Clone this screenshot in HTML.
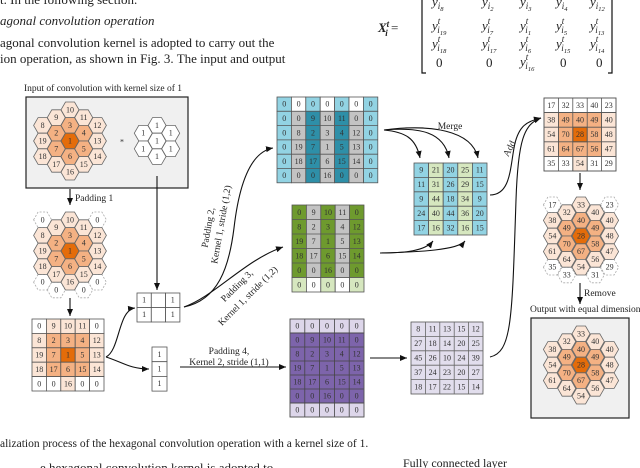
<!DOCTYPE html>
<html><head><meta charset="utf-8"><style>
html,body{margin:0;padding:0;background:#fff;width:640px;height:468px;overflow:hidden}
svg{display:block}
text{font-family:"Liberation Serif",serif;fill:#222}
.n text{font-size:8px;text-anchor:middle;dominant-baseline:central;fill:#333}
.n rect{stroke:#555;stroke-width:.8}
.h use{stroke:#666;stroke-width:.8}
.d use{stroke:#aaa;stroke-dasharray:2 1.5;stroke-width:.8}
.l{font-size:9.5px}
.p{font-size:13px}
path.a{fill:none;stroke:#111;stroke-width:1.1}
.eq text{font-size:13px}
</style></head><body>
<svg width="640" height="468" viewBox="0 0 640 468" xmlns="http://www.w3.org/2000/svg">
<defs>
<polygon id="hx" points="-9,0 -4.5,-7.8 4.5,-7.8 9,0 4.5,7.8 -4.5,7.8"/>
<marker id="ar" markerWidth="8" markerHeight="8" refX="7" refY="4" orient="auto" markerUnits="userSpaceOnUse"><path d="M0,1 L7,4 L0,7 Z" fill="#111"/></marker>
</defs>

<!-- paper text -->
<text class="p" x="0" y="4">t. In the following section.</text>
<text class="p" x="0" y="25" font-style="italic">agonal convolution operation</text>
<text class="p" x="0" y="47">agonal convolution kernel is adopted to carry out the</text>
<text class="p" x="0" y="63">ion operation, as shown in Fig. 3. The input and output</text>
<text x="0" y="447" font-size="11.5">alization process of the hexagonal convolution operation with a kernel size of 1.</text>
<text x="40" y="472" font-size="13">e hexagonal convolution kernel is adopted to</text>
<text x="403" y="467" font-size="12">Fully connected layer</text>

<!-- matrix equation -->
<g class="eq">
<text x="378" y="32" font-style="italic" font-weight="bold">X<tspan font-size="9" dy="-5">t</tspan><tspan font-size="9" dx="-4" dy="9">i</tspan><tspan dy="-4" font-style="normal" font-weight="normal"> =</tspan></text>
<path d="M426,-4 H422 V73 H426 M608,-4 H612 V73 H608" fill="none" stroke="#111" stroke-width="1.2"/>
<g font-style="italic">
<text x="432" y="6">y<tspan font-size="9" dy="3">i</tspan><tspan font-size="6.5" dy="2">8</tspan></text>
<text x="482" y="6">y<tspan font-size="9" dy="3">i</tspan><tspan font-size="6.5" dy="2">2</tspan></text>
<text x="520" y="6">y<tspan font-size="9" dy="3">i</tspan><tspan font-size="6.5" dy="2">3</tspan></text>
<text x="556" y="6">y<tspan font-size="9" dy="3">i</tspan><tspan font-size="6.5" dy="2">4</tspan></text>
<text x="590" y="6">y<tspan font-size="9" dy="3">i</tspan><tspan font-size="6.5" dy="2">12</tspan></text>

<text x="432" y="30">y<tspan font-size="9" dy="-6">t</tspan><tspan font-size="9" dx="-3" dy="9">i</tspan><tspan font-size="6.5" dy="2">19</tspan></text>
<text x="482" y="30">y<tspan font-size="9" dy="-6">t</tspan><tspan font-size="9" dx="-3" dy="9">i</tspan><tspan font-size="6.5" dy="2">7</tspan></text>
<text x="520" y="30">y<tspan font-size="9" dy="-6">t</tspan><tspan font-size="9" dx="-3" dy="9">i</tspan><tspan font-size="6.5" dy="2">1</tspan></text>
<text x="556" y="30">y<tspan font-size="9" dy="-6">t</tspan><tspan font-size="9" dx="-3" dy="9">i</tspan><tspan font-size="6.5" dy="2">5</tspan></text>
<text x="590" y="30">y<tspan font-size="9" dy="-6">t</tspan><tspan font-size="9" dx="-3" dy="9">i</tspan><tspan font-size="6.5" dy="2">13</tspan></text>

<text x="432" y="48">y<tspan font-size="9" dy="-6">t</tspan><tspan font-size="9" dx="-3" dy="9">i</tspan><tspan font-size="6.5" dy="2">18</tspan></text>
<text x="482" y="48">y<tspan font-size="9" dy="-6">t</tspan><tspan font-size="9" dx="-3" dy="9">i</tspan><tspan font-size="6.5" dy="2">17</tspan></text>
<text x="520" y="48">y<tspan font-size="9" dy="-6">t</tspan><tspan font-size="9" dx="-3" dy="9">i</tspan><tspan font-size="6.5" dy="2">6</tspan></text>
<text x="556" y="48">y<tspan font-size="9" dy="-6">t</tspan><tspan font-size="9" dx="-3" dy="9">i</tspan><tspan font-size="6.5" dy="2">15</tspan></text>
<text x="590" y="48">y<tspan font-size="9" dy="-6">t</tspan><tspan font-size="9" dx="-3" dy="9">i</tspan><tspan font-size="6.5" dy="2">14</tspan></text>

<text x="520" y="66">y<tspan font-size="9" dy="-6">t</tspan><tspan font-size="9" dx="-3" dy="9">i</tspan><tspan font-size="6.5" dy="2">16</tspan></text>
</g>
<text x="436" y="67">0</text><text x="486" y="67">0</text><text x="560" y="67">0</text><text x="596" y="67">0</text>
</g>

<!-- input box -->
<text class="l" x="24" y="91">Input of convolution with kernel size of 1</text>
<rect x="26" y="97" width="162" height="91" fill="#f0f0f0" stroke="#222" stroke-width="1.2"/>
<g class="h">
<use href="#hx" x="42.6" y="125.4" fill="#fbe5d6"/><use href="#hx" x="42.6" y="141" fill="#fbe5d6"/><use href="#hx" x="42.6" y="156.6" fill="#fbe5d6"/>
<use href="#hx" x="56.3" y="117.6" fill="#fbe5d6"/><use href="#hx" x="56.3" y="133.2" fill="#f4b183"/><use href="#hx" x="56.3" y="148.8" fill="#f4b183"/><use href="#hx" x="56.3" y="164.4" fill="#fbe5d6"/>
<use href="#hx" x="70" y="109.8" fill="#fbe5d6"/><use href="#hx" x="70" y="125.4" fill="#f4b183"/><use href="#hx" x="70" y="141" fill="#e46c0a"/><use href="#hx" x="70" y="156.6" fill="#f4b183"/><use href="#hx" x="70" y="172.2" fill="#fbe5d6"/>
<use href="#hx" x="83.7" y="117.6" fill="#fbe5d6"/><use href="#hx" x="83.7" y="133.2" fill="#f4b183"/><use href="#hx" x="83.7" y="148.8" fill="#f4b183"/><use href="#hx" x="83.7" y="164.4" fill="#fbe5d6"/>
<use href="#hx" x="97.4" y="125.4" fill="#fbe5d6"/><use href="#hx" x="97.4" y="141" fill="#fbe5d6"/><use href="#hx" x="97.4" y="156.6" fill="#fbe5d6"/>
<use href="#hx" x="143.3" y="133.2" fill="#fff"/><use href="#hx" x="143.3" y="148.8" fill="#fff"/>
<use href="#hx" x="157" y="125.4" fill="#fff"/><use href="#hx" x="157" y="141" fill="#fff"/><use href="#hx" x="157" y="156.6" fill="#fff"/>
<use href="#hx" x="170.7" y="133.2" fill="#fff"/><use href="#hx" x="170.7" y="148.8" fill="#fff"/>
</g>
<g class="n">
<text x="42.6" y="125.4">8</text><text x="42.6" y="141">19</text><text x="42.6" y="156.6">18</text>
<text x="56.3" y="117.6">9</text><text x="56.3" y="133.2">2</text><text x="56.3" y="148.8">7</text><text x="56.3" y="164.4">17</text>
<text x="70" y="109.8">10</text><text x="70" y="125.4">3</text><text x="70" y="141">1</text><text x="70" y="156.6">6</text><text x="70" y="172.2">16</text>
<text x="83.7" y="117.6">11</text><text x="83.7" y="133.2">4</text><text x="83.7" y="148.8">5</text><text x="83.7" y="164.4">15</text>
<text x="97.4" y="125.4">12</text><text x="97.4" y="141">13</text><text x="97.4" y="156.6">14</text>
<text x="143.3" y="133.2">1</text><text x="143.3" y="148.8">1</text>
<text x="157" y="125.4">1</text><text x="157" y="141">1</text><text x="157" y="156.6">1</text>
<text x="170.7" y="133.2">1</text><text x="170.7" y="148.8">1</text>
<text x="122" y="142" font-size="11">*</text>
</g>

<!-- padded hex -->
<g class="d">
<use href="#hx" x="42.6" y="219.8" fill="#fff"/><use href="#hx" x="97.4" y="219.8" fill="#fff"/>
<use href="#hx" x="42.6" y="282.2" fill="#fff"/><use href="#hx" x="97.4" y="282.2" fill="#fff"/>
<use href="#hx" x="56.3" y="290" fill="#fff"/><use href="#hx" x="83.7" y="290" fill="#fff"/>
</g>
<g class="h">
<use href="#hx" x="42.6" y="235.4" fill="#fbe5d6"/><use href="#hx" x="42.6" y="251" fill="#fbe5d6"/><use href="#hx" x="42.6" y="266.6" fill="#fbe5d6"/>
<use href="#hx" x="56.3" y="227.6" fill="#fbe5d6"/><use href="#hx" x="56.3" y="243.2" fill="#f4b183"/><use href="#hx" x="56.3" y="258.8" fill="#f4b183"/><use href="#hx" x="56.3" y="274.4" fill="#fbe5d6"/>
<use href="#hx" x="70" y="219.8" fill="#fbe5d6"/><use href="#hx" x="70" y="235.4" fill="#f4b183"/><use href="#hx" x="70" y="251" fill="#e46c0a"/><use href="#hx" x="70" y="266.6" fill="#f4b183"/><use href="#hx" x="70" y="282.2" fill="#fbe5d6"/>
<use href="#hx" x="83.7" y="227.6" fill="#fbe5d6"/><use href="#hx" x="83.7" y="243.2" fill="#f4b183"/><use href="#hx" x="83.7" y="258.8" fill="#f4b183"/><use href="#hx" x="83.7" y="274.4" fill="#fbe5d6"/>
<use href="#hx" x="97.4" y="235.4" fill="#fbe5d6"/><use href="#hx" x="97.4" y="251" fill="#fbe5d6"/><use href="#hx" x="97.4" y="266.6" fill="#fbe5d6"/>
</g>
<g class="n">
<text x="42.6" y="219.8">0</text><text x="97.4" y="219.8">0</text><text x="42.6" y="282.2">0</text><text x="97.4" y="282.2">0</text><text x="56.3" y="290">0</text><text x="83.7" y="290">0</text>
<text x="42.6" y="235.4">8</text><text x="42.6" y="251">19</text><text x="42.6" y="266.6">18</text>
<text x="56.3" y="227.6">9</text><text x="56.3" y="243.2">2</text><text x="56.3" y="258.8">7</text><text x="56.3" y="274.4">17</text>
<text x="70" y="219.8">10</text><text x="70" y="235.4">3</text><text x="70" y="251">1</text><text x="70" y="266.6">6</text><text x="70" y="282.2">16</text>
<text x="83.7" y="227.6">11</text><text x="83.7" y="243.2">4</text><text x="83.7" y="258.8">5</text><text x="83.7" y="274.4">15</text>
<text x="97.4" y="235.4">12</text><text x="97.4" y="251">13</text><text x="97.4" y="266.6">14</text>
</g>
<text class="l" x="75" y="201">Padding 1</text>

<!-- orange matrix -->
<g class="n">
<rect x="32" y="319" width="14.4" height="14.4" fill="#fff"/><rect x="46.4" y="319" width="14.4" height="14.4" fill="#fbe5d6"/><rect x="60.8" y="319" width="14.4" height="14.4" fill="#fbe5d6"/><rect x="75.2" y="319" width="14.4" height="14.4" fill="#fbe5d6"/><rect x="89.6" y="319" width="14.4" height="14.4" fill="#fff"/>
<rect x="32" y="333.4" width="14.4" height="14.4" fill="#fbe5d6"/><rect x="46.4" y="333.4" width="14.4" height="14.4" fill="#f4b183"/><rect x="60.8" y="333.4" width="14.4" height="14.4" fill="#f4b183"/><rect x="75.2" y="333.4" width="14.4" height="14.4" fill="#f4b183"/><rect x="89.6" y="333.4" width="14.4" height="14.4" fill="#fbe5d6"/>
<rect x="32" y="347.8" width="14.4" height="14.4" fill="#fbe5d6"/><rect x="46.4" y="347.8" width="14.4" height="14.4" fill="#f4b183"/><rect x="60.8" y="347.8" width="14.4" height="14.4" fill="#e46c0a"/><rect x="75.2" y="347.8" width="14.4" height="14.4" fill="#f4b183"/><rect x="89.6" y="347.8" width="14.4" height="14.4" fill="#fbe5d6"/>
<rect x="32" y="362.2" width="14.4" height="14.4" fill="#fbe5d6"/><rect x="46.4" y="362.2" width="14.4" height="14.4" fill="#f4b183"/><rect x="60.8" y="362.2" width="14.4" height="14.4" fill="#f4b183"/><rect x="75.2" y="362.2" width="14.4" height="14.4" fill="#f4b183"/><rect x="89.6" y="362.2" width="14.4" height="14.4" fill="#fbe5d6"/>
<rect x="32" y="376.6" width="14.4" height="14.4" fill="#fff"/><rect x="46.4" y="376.6" width="14.4" height="14.4" fill="#fff"/><rect x="60.8" y="376.6" width="14.4" height="14.4" fill="#fbe5d6"/><rect x="75.2" y="376.6" width="14.4" height="14.4" fill="#fff"/><rect x="89.6" y="376.6" width="14.4" height="14.4" fill="#fff"/>
<text x="39.2" y="326.2">0</text><text x="53.6" y="326.2">9</text><text x="68" y="326.2">10</text><text x="82.4" y="326.2">11</text><text x="96.8" y="326.2">0</text>
<text x="39.2" y="340.6">8</text><text x="53.6" y="340.6">2</text><text x="68" y="340.6">3</text><text x="82.4" y="340.6">4</text><text x="96.8" y="340.6">12</text>
<text x="39.2" y="355">19</text><text x="53.6" y="355">7</text><text x="68" y="355">1</text><text x="82.4" y="355">5</text><text x="96.8" y="355">13</text>
<text x="39.2" y="369.4">18</text><text x="53.6" y="369.4">17</text><text x="68" y="369.4">6</text><text x="82.4" y="369.4">15</text><text x="96.8" y="369.4">14</text>
<text x="39.2" y="383.8">0</text><text x="53.6" y="383.8">0</text><text x="68" y="383.8">16</text><text x="82.4" y="383.8">0</text><text x="96.8" y="383.8">0</text>
</g>

<!-- small kernels -->
<g class="n">
<rect x="137" y="293" width="14.3" height="14.5" fill="#fff"/><rect x="151.3" y="293" width="14.3" height="14.5" fill="#fff"/><rect x="165.6" y="293" width="14.3" height="14.5" fill="#fff"/>
<rect x="137" y="307.5" width="14.3" height="14.5" fill="#fff"/><rect x="151.3" y="307.5" width="14.3" height="14.5" fill="#fff"/><rect x="165.6" y="307.5" width="14.3" height="14.5" fill="#fff"/>
<text x="144.1" y="300.2">1</text><text x="172.7" y="300.2">1</text><text x="144.1" y="314.7">1</text><text x="172.7" y="314.7">1</text>
<rect x="152" y="347" width="15" height="14.7" fill="#fff"/><rect x="152" y="361.7" width="15" height="14.7" fill="#fff"/><rect x="152" y="376.4" width="15" height="14.7" fill="#fff"/>
<text x="159.5" y="354.3">1</text><text x="159.5" y="369">1</text><text x="159.5" y="383.7">1</text>
</g>

<!-- blue matrix -->
<g class="n">
<rect x="277" y="97" width="14.4" height="14.3" fill="#92d3e3"/><rect x="291.4" y="97" width="14.4" height="14.3" fill="#fff"/><rect x="305.8" y="97" width="14.4" height="14.3" fill="#92d3e3"/><rect x="320.2" y="97" width="14.4" height="14.3" fill="#fff"/><rect x="334.6" y="97" width="14.4" height="14.3" fill="#92d3e3"/><rect x="349" y="97" width="14.4" height="14.3" fill="#fff"/><rect x="363.4" y="97" width="14.4" height="14.3" fill="#92d3e3"/>
<rect x="277" y="111.3" width="14.4" height="71.5" fill="#92d3e3"/><rect x="363.4" y="111.3" width="14.4" height="71.5" fill="#92d3e3"/>
<rect x="291.4" y="111.3" width="14.4" height="71.5" fill="#c3c3c3"/><rect x="305.8" y="111.3" width="14.4" height="71.5" fill="#2e8fa8"/><rect x="320.2" y="111.3" width="14.4" height="71.5" fill="#c3c3c3"/><rect x="334.6" y="111.3" width="14.4" height="71.5" fill="#2e8fa8"/><rect x="349" y="111.3" width="14.4" height="71.5" fill="#c3c3c3"/>
<path d="M277,125.6H377.8M277,139.9H377.8M277,154.2H377.8M277,168.5H377.8" stroke="#555" stroke-width=".8"/>
<text x="284.2" y="104.2">0</text><text x="298.6" y="104.2">0</text><text x="313" y="104.2">0</text><text x="327.4" y="104.2">0</text><text x="341.8" y="104.2">0</text><text x="356.2" y="104.2">0</text><text x="370.6" y="104.2">0</text>
<text x="284.2" y="118.5">0</text><text x="298.6" y="118.5">0</text><text x="313" y="118.5">9</text><text x="327.4" y="118.5">10</text><text x="341.8" y="118.5">11</text><text x="356.2" y="118.5">0</text><text x="370.6" y="118.5">0</text>
<text x="284.2" y="132.8">0</text><text x="298.6" y="132.8">8</text><text x="313" y="132.8">2</text><text x="327.4" y="132.8">3</text><text x="341.8" y="132.8">4</text><text x="356.2" y="132.8">12</text><text x="370.6" y="132.8">0</text>
<text x="284.2" y="147.1">0</text><text x="298.6" y="147.1">19</text><text x="313" y="147.1">7</text><text x="327.4" y="147.1">1</text><text x="341.8" y="147.1">5</text><text x="356.2" y="147.1">13</text><text x="370.6" y="147.1">0</text>
<text x="284.2" y="161.4">0</text><text x="298.6" y="161.4">18</text><text x="313" y="161.4">17</text><text x="327.4" y="161.4">6</text><text x="341.8" y="161.4">15</text><text x="356.2" y="161.4">14</text><text x="370.6" y="161.4">0</text>
<text x="284.2" y="175.7">0</text><text x="298.6" y="175.7">0</text><text x="313" y="175.7">0</text><text x="327.4" y="175.7">16</text><text x="341.8" y="175.7">0</text><text x="356.2" y="175.7">0</text><text x="370.6" y="175.7">0</text>
</g>

<!-- green matrix -->
<g class="n">
<rect x="292" y="205" width="14.4" height="72.5" fill="#6e9a2e"/><rect x="306.4" y="205" width="14.4" height="72.5" fill="#c3c3c3"/><rect x="320.8" y="205" width="14.4" height="72.5" fill="#6e9a2e"/><rect x="335.2" y="205" width="14.4" height="72.5" fill="#c3c3c3"/><rect x="349.6" y="205" width="14.4" height="72.5" fill="#6e9a2e"/>
<rect x="292" y="277.5" width="14.4" height="14.5" fill="#d6e7bf"/><rect x="306.4" y="277.5" width="14.4" height="14.5" fill="#fff"/><rect x="320.8" y="277.5" width="14.4" height="14.5" fill="#d6e7bf"/><rect x="335.2" y="277.5" width="14.4" height="14.5" fill="#fff"/><rect x="349.6" y="277.5" width="14.4" height="14.5" fill="#d6e7bf"/>
<path d="M292,219.5H364M292,234H364M292,248.5H364M292,263H364" stroke="#555" stroke-width=".8"/>
<text x="299.2" y="212.3">0</text><text x="313.6" y="212.3">9</text><text x="328" y="212.3">10</text><text x="342.4" y="212.3">11</text><text x="356.8" y="212.3">0</text>
<text x="299.2" y="226.8">8</text><text x="313.6" y="226.8">2</text><text x="328" y="226.8">3</text><text x="342.4" y="226.8">4</text><text x="356.8" y="226.8">12</text>
<text x="299.2" y="241.3">19</text><text x="313.6" y="241.3">7</text><text x="328" y="241.3">1</text><text x="342.4" y="241.3">5</text><text x="356.8" y="241.3">13</text>
<text x="299.2" y="255.8">18</text><text x="313.6" y="255.8">17</text><text x="328" y="255.8">6</text><text x="342.4" y="255.8">15</text><text x="356.8" y="255.8">14</text>
<text x="299.2" y="270.3">0</text><text x="313.6" y="270.3">0</text><text x="328" y="270.3">16</text><text x="342.4" y="270.3">0</text><text x="356.8" y="270.3">0</text>
<text x="299.2" y="284.8">0</text><text x="313.6" y="284.8">0</text><text x="328" y="284.8">0</text><text x="342.4" y="284.8">0</text><text x="356.8" y="284.8">0</text>
</g>

<!-- merge matrix -->
<g class="n">
<rect x="414" y="163" width="14.6" height="72" fill="#92d3e3"/><rect x="428.6" y="163" width="14.6" height="72" fill="#d6e7bf"/><rect x="443.2" y="163" width="14.6" height="72" fill="#92d3e3"/><rect x="457.8" y="163" width="14.6" height="72" fill="#d6e7bf"/><rect x="472.4" y="163" width="14.6" height="72" fill="#92d3e3"/>
<path d="M414,177.4H487M414,191.8H487M414,206.2H487M414,220.6H487" stroke="#555" stroke-width=".8"/>
<text x="421.3" y="170.2">9</text><text x="435.9" y="170.2">21</text><text x="450.5" y="170.2">20</text><text x="465.1" y="170.2">25</text><text x="479.7" y="170.2">11</text>
<text x="421.3" y="184.6">11</text><text x="435.9" y="184.6">31</text><text x="450.5" y="184.6">26</text><text x="465.1" y="184.6">29</text><text x="479.7" y="184.6">15</text>
<text x="421.3" y="199">9</text><text x="435.9" y="199">44</text><text x="450.5" y="199">18</text><text x="465.1" y="199">34</text><text x="479.7" y="199">9</text>
<text x="421.3" y="213.4">24</text><text x="435.9" y="213.4">40</text><text x="450.5" y="213.4">44</text><text x="465.1" y="213.4">36</text><text x="479.7" y="213.4">20</text>
<text x="421.3" y="227.8">17</text><text x="435.9" y="227.8">16</text><text x="450.5" y="227.8">32</text><text x="465.1" y="227.8">16</text><text x="479.7" y="227.8">15</text>
</g>
<text class="l" x="450" y="129" text-anchor="middle">Merge</text>

<!-- purple matrix -->
<g class="n">
<rect x="290" y="319" width="74" height="14" fill="#ddd6ea"/><rect x="290" y="333" width="74" height="70" fill="#7d64ab"/><rect x="290" y="403" width="74" height="14" fill="#ddd6ea"/>
<path d="M290,333H364M290,347H364M290,361H364M290,375H364M290,389H364M290,403H364M304.8,319V417M319.6,319V417M334.4,319V417M349.2,319V417" stroke="#444" stroke-width=".8"/>
<rect x="290" y="319" width="74" height="98" fill="none"/>
<text x="297.4" y="326">0</text><text x="312.2" y="326">0</text><text x="327" y="326">0</text><text x="341.8" y="326">0</text><text x="356.6" y="326">0</text>
<text x="297.4" y="340">0</text><text x="312.2" y="340">9</text><text x="327" y="340">10</text><text x="341.8" y="340">11</text><text x="356.6" y="340">0</text>
<text x="297.4" y="354">8</text><text x="312.2" y="354">2</text><text x="327" y="354">3</text><text x="341.8" y="354">4</text><text x="356.6" y="354">12</text>
<text x="297.4" y="368">19</text><text x="312.2" y="368">7</text><text x="327" y="368">1</text><text x="341.8" y="368">5</text><text x="356.6" y="368">13</text>
<text x="297.4" y="382">18</text><text x="312.2" y="382">17</text><text x="327" y="382">6</text><text x="341.8" y="382">15</text><text x="356.6" y="382">14</text>
<text x="297.4" y="396">0</text><text x="312.2" y="396">0</text><text x="327" y="396">16</text><text x="341.8" y="396">0</text><text x="356.6" y="396">0</text>
<text x="297.4" y="410">0</text><text x="312.2" y="410">0</text><text x="327" y="410">0</text><text x="341.8" y="410">0</text><text x="356.6" y="410">0</text>
</g>

<!-- lavender matrix -->
<g class="n">
<rect x="411" y="322" width="72" height="72" fill="#e2deed"/>
<path d="M411,336.4H483M411,350.8H483M411,365.2H483M411,379.6H483M425.4,322V394M439.8,322V394M454.2,322V394M468.6,322V394" stroke="#666" stroke-width=".8"/>
<text x="418.2" y="329.2">8</text><text x="432.6" y="329.2">11</text><text x="447" y="329.2">13</text><text x="461.4" y="329.2">15</text><text x="475.8" y="329.2">12</text>
<text x="418.2" y="343.6">27</text><text x="432.6" y="343.6">18</text><text x="447" y="343.6">14</text><text x="461.4" y="343.6">20</text><text x="475.8" y="343.6">25</text>
<text x="418.2" y="358">45</text><text x="432.6" y="358">26</text><text x="447" y="358">10</text><text x="461.4" y="358">24</text><text x="475.8" y="358">39</text>
<text x="418.2" y="372.4">37</text><text x="432.6" y="372.4">24</text><text x="447" y="372.4">23</text><text x="461.4" y="372.4">20</text><text x="475.8" y="372.4">27</text>
<text x="418.2" y="386.8">18</text><text x="432.6" y="386.8">17</text><text x="447" y="386.8">22</text><text x="461.4" y="386.8">15</text><text x="475.8" y="386.8">14</text>
</g>

<!-- result matrix -->
<g class="n">
<rect x="544" y="98" width="72" height="14.6" fill="#fff"/>
<rect x="544" y="112.6" width="72" height="43.8" fill="#fbe5d6"/>
<rect x="558.4" y="112.6" width="43.2" height="43.8" fill="#f4b183"/>
<rect x="572.8" y="127.2" width="14.4" height="14.6" fill="#e46c0a"/>
<rect x="544" y="156.4" width="72" height="14.6" fill="#fff"/><rect x="572.8" y="156.4" width="14.4" height="14.6" fill="#fbe5d6"/>
<path d="M544,112.6H616M544,127.2H616M544,141.8H616M544,156.4H616M558.4,98V171M572.8,98V171M587.2,98V171M601.6,98V171" stroke="#555" stroke-width=".8"/>
<rect x="544" y="98" width="72" height="73" fill="none"/>
<text x="551.2" y="105.3">17</text><text x="565.6" y="105.3">32</text><text x="580" y="105.3">33</text><text x="594.4" y="105.3">40</text><text x="608.8" y="105.3">23</text>
<text x="551.2" y="119.9">38</text><text x="565.6" y="119.9">49</text><text x="580" y="119.9">40</text><text x="594.4" y="119.9">49</text><text x="608.8" y="119.9">40</text>
<text x="551.2" y="134.5">54</text><text x="565.6" y="134.5">70</text><text x="580" y="134.5">28</text><text x="594.4" y="134.5">58</text><text x="608.8" y="134.5">48</text>
<text x="551.2" y="149.1">61</text><text x="565.6" y="149.1">64</text><text x="580" y="149.1">67</text><text x="594.4" y="149.1">56</text><text x="608.8" y="149.1">47</text>
<text x="551.2" y="163.7">35</text><text x="565.6" y="163.7">33</text><text x="580" y="163.7">54</text><text x="594.4" y="163.7">31</text><text x="608.8" y="163.7">29</text>
</g>

<!-- result hex -->
<g class="d">
<use href="#hx" x="552.4" y="204.8" fill="#fff"/><use href="#hx" x="609.6" y="204.8" fill="#fff"/>
<use href="#hx" x="552.4" y="267.2" fill="#fff"/><use href="#hx" x="609.6" y="267.2" fill="#fff"/>
<use href="#hx" x="566.7" y="275" fill="#fff"/><use href="#hx" x="595.3" y="275" fill="#fff"/>
</g>
<g class="h">
<use href="#hx" x="552.4" y="220.4" fill="#fbe5d6"/><use href="#hx" x="552.4" y="236" fill="#fbe5d6"/><use href="#hx" x="552.4" y="251.6" fill="#fbe5d6"/>
<use href="#hx" x="566.7" y="212.6" fill="#fbe5d6"/><use href="#hx" x="566.7" y="228.2" fill="#f4b183"/><use href="#hx" x="566.7" y="243.8" fill="#f4b183"/><use href="#hx" x="566.7" y="259.4" fill="#fbe5d6"/>
<use href="#hx" x="581" y="204.8" fill="#fbe5d6"/><use href="#hx" x="581" y="220.4" fill="#f4b183"/><use href="#hx" x="581" y="236" fill="#e46c0a"/><use href="#hx" x="581" y="251.6" fill="#f4b183"/><use href="#hx" x="581" y="267.2" fill="#fbe5d6"/>
<use href="#hx" x="595.3" y="212.6" fill="#fbe5d6"/><use href="#hx" x="595.3" y="228.2" fill="#f4b183"/><use href="#hx" x="595.3" y="243.8" fill="#f4b183"/><use href="#hx" x="595.3" y="259.4" fill="#fbe5d6"/>
<use href="#hx" x="609.6" y="220.4" fill="#fbe5d6"/><use href="#hx" x="609.6" y="236" fill="#fbe5d6"/><use href="#hx" x="609.6" y="251.6" fill="#fbe5d6"/>
</g>
<g class="n">
<text x="552.4" y="204.8">17</text><text x="609.6" y="204.8">23</text><text x="552.4" y="267.2">35</text><text x="609.6" y="267.2">29</text><text x="566.7" y="275">33</text><text x="595.3" y="275">31</text>
<text x="552.4" y="220.4">38</text><text x="552.4" y="236">54</text><text x="552.4" y="251.6">61</text>
<text x="566.7" y="212.6">32</text><text x="566.7" y="228.2">49</text><text x="566.7" y="243.8">70</text><text x="566.7" y="259.4">64</text>
<text x="581" y="204.8">33</text><text x="581" y="220.4">40</text><text x="581" y="236">28</text><text x="581" y="251.6">67</text><text x="581" y="267.2">54</text>
<text x="595.3" y="212.6">40</text><text x="595.3" y="228.2">49</text><text x="595.3" y="243.8">58</text><text x="595.3" y="259.4">56</text>
<text x="609.6" y="220.4">40</text><text x="609.6" y="236">48</text><text x="609.6" y="251.6">47</text>
</g>
<text class="l" x="584" y="296">Remove</text>
<text class="l" x="530" y="312">Output with equal dimension</text>

<!-- output box -->
<rect x="531" y="318" width="98" height="100" fill="#f0f0f0" stroke="#222" stroke-width="1.2"/>
<g class="h">
<use href="#hx" x="552.4" y="349.4" fill="#fbe5d6"/><use href="#hx" x="552.4" y="365" fill="#fbe5d6"/><use href="#hx" x="552.4" y="380.6" fill="#fbe5d6"/>
<use href="#hx" x="566.7" y="341.6" fill="#fbe5d6"/><use href="#hx" x="566.7" y="357.2" fill="#f4b183"/><use href="#hx" x="566.7" y="372.8" fill="#f4b183"/><use href="#hx" x="566.7" y="388.4" fill="#fbe5d6"/>
<use href="#hx" x="581" y="333.8" fill="#fbe5d6"/><use href="#hx" x="581" y="349.4" fill="#f4b183"/><use href="#hx" x="581" y="365" fill="#e46c0a"/><use href="#hx" x="581" y="380.6" fill="#f4b183"/><use href="#hx" x="581" y="396.2" fill="#fbe5d6"/>
<use href="#hx" x="595.3" y="341.6" fill="#fbe5d6"/><use href="#hx" x="595.3" y="357.2" fill="#f4b183"/><use href="#hx" x="595.3" y="372.8" fill="#f4b183"/><use href="#hx" x="595.3" y="388.4" fill="#fbe5d6"/>
<use href="#hx" x="609.6" y="349.4" fill="#fbe5d6"/><use href="#hx" x="609.6" y="365" fill="#fbe5d6"/><use href="#hx" x="609.6" y="380.6" fill="#fbe5d6"/>
</g>
<g class="n">
<text x="552.4" y="349.4">38</text><text x="552.4" y="365">54</text><text x="552.4" y="380.6">61</text>
<text x="566.7" y="341.6">32</text><text x="566.7" y="357.2">49</text><text x="566.7" y="372.8">70</text><text x="566.7" y="388.4">64</text>
<text x="581" y="333.8">33</text><text x="581" y="349.4">40</text><text x="581" y="365">28</text><text x="581" y="380.6">67</text><text x="581" y="396.2">54</text>
<text x="595.3" y="341.6">40</text><text x="595.3" y="357.2">49</text><text x="595.3" y="372.8">58</text><text x="595.3" y="388.4">56</text>
<text x="609.6" y="349.4">40</text><text x="609.6" y="365">48</text><text x="609.6" y="380.6">47</text>
</g>

<!-- connectors -->
<g marker-end="url(#ar)">
<path class="a" d="M70,189V205"/>
<path class="a" d="M70,298V316"/>
<path class="a" d="M157,176V290"/>
<path class="a" d="M106,357C120,350 118,310 135,308"/>
<path class="a" d="M106,357C122,362 130,369 149,369"/>
<path class="a" d="M184,307C218,300 229,268 234,228C239,185 250,152 273,148"/>
<path class="a" d="M184,307C215,296 245,260 283,247"/>
<path class="a" d="M180,367H286"/>
<path class="a" d="M384,130C405,132 416,138 420,158"/>
<path class="a" d="M384,130C420,127 444,132 449,158"/>
<path class="a" d="M384,130C430,124 472,130 478,158"/>
<path class="a" d="M380,253C405,253 425,251 433,241"/>
<path class="a" d="M380,253C420,252 458,250 465,241"/>
<path class="a" d="M370,358H407"/>
<path class="a" d="M490,195C510,195 510,170 514,148C518,125 528,121 541,118"/>
<path class="a" d="M490,357C512,352 512,320 516,200C518,140 524,124 541,118"/>
<path class="a" d="M580,173V190"/>
<path class="a" d="M580,283V304"/>
</g>

<!-- rotated labels -->
<text class="l" transform="translate(211,228) rotate(-80)" text-anchor="middle">Padding 2,</text>
<text class="l" transform="translate(224,225) rotate(-80)" text-anchor="middle">Kernel 1, stride (1,2)</text>
<text class="l" transform="translate(239,288) rotate(-45)" text-anchor="middle">Padding 3,</text>
<text class="l" transform="translate(250,298) rotate(-45)" text-anchor="middle">Kernel 1, stride (1,2)</text>
<text class="l" x="229" y="354" text-anchor="middle">Padding 4,</text>
<text class="l" x="229" y="365" text-anchor="middle">Kernel 2, stride (1,1)</text>
<text class="l" transform="translate(512,150) rotate(-62)" text-anchor="middle">Add</text>
</svg>
</body></html>
